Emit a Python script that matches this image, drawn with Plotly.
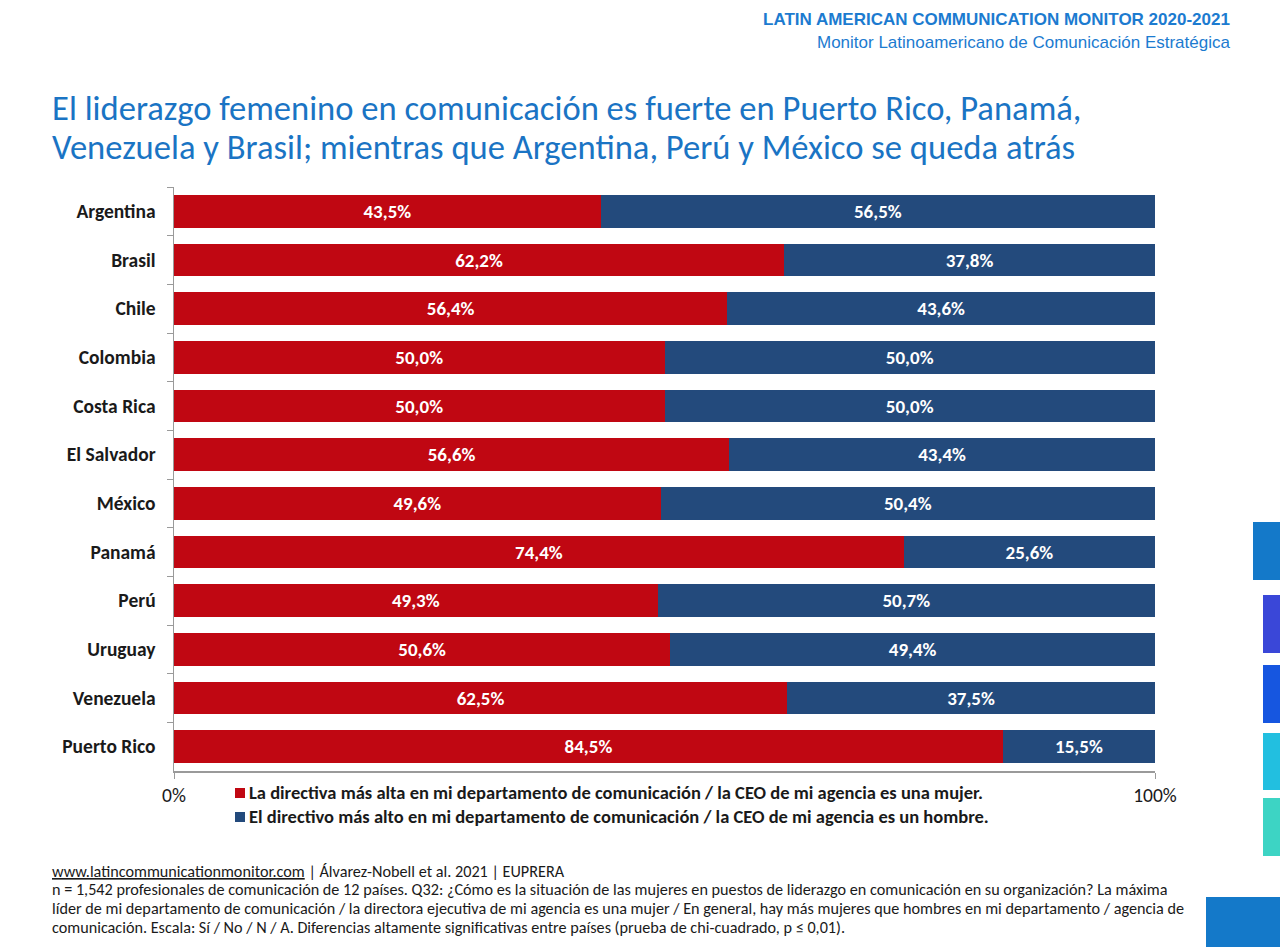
import plotly.graph_objects as go

countries = ["Argentina", "Brasil", "Chile", "Colombia", "Costa Rica", "El Salvador",
             "México", "Panamá", "Perú", "Uruguay", "Venezuela", "Puerto Rico"]
mujer = [43.5, 62.2, 56.4, 50.0, 50.0, 56.6, 49.6, 74.4, 49.3, 50.6, 62.5, 84.5]
hombre = [56.5, 37.8, 43.6, 50.0, 50.0, 43.4, 50.4, 25.6, 50.7, 49.4, 37.5, 15.5]
x_tick_vals = [0, 100]
x_tick_text = ["0%", "100%"]
name_mujer = "La directiva más alta en mi departamento de comunicación / la CEO de mi agencia es una mujer."
name_hombre = "El directivo más alto en mi departamento de comunicación / la CEO de mi agencia es un hombre."

title_lines = ["El liderazgo femenino en comunicación es fuerte en Puerto Rico, Panamá,",
               "Venezuela y Brasil; mientras que Argentina, Perú y México se queda atrás"]
footer_lines = [
    "<u>www.latincommunicationmonitor.com</u> | Álvarez-Nobell et al. 2021 | EUPRERA",
    "n = 1,542 profesionales de comunicación de 12 países. Q32: ¿Cómo es la situación de las mujeres en puestos de liderazgo en comunicación en su organización? La máxima",
    "líder de mi departamento de comunicación / la directora ejecutiva de mi agencia es una mujer / En general, hay más mujeres que hombres en mi departamento / agencia de",
    "comunicación. Escala: Sí / No / N / A. Diferencias altamente significativas entre países (prueba de chi-cuadrado, p ≤ 0,01).",
]

W, H = 1280, 947
L, R, T, B = 174, 1155, 187, 771
FONT = "Carlito, Calibri, Lato, sans-serif"
DARK = "#1a1a1a"

def px(x_ref):
    return (x_ref - L) / (R - L)

def py(y_ref):
    return (B - y_ref) / (B - T)

RED = "#C00712"
BLUE = "#234A7C"
TEAL_BLUE = "#1479C9"

fig = go.Figure()
for vals, name, col in [(mujer, name_mujer, RED), (hombre, name_hombre, BLUE)]:
    fig.add_trace(go.Bar(
        y=countries, x=vals, orientation="h", name=name,
        marker=dict(color=col, line=dict(width=0)),
        texttemplate="%{x:.1f}%", textposition="inside", insidetextanchor="middle",
        textfont=dict(color="white", size=19, family=FONT, weight="bold"),
        hoverinfo="skip", showlegend=False,
    ))

shapes = []
deco = [
    (1253, 522, 1280, 580, TEAL_BLUE),
    (1263, 595, 1280, 653, "#3A47D8"),
    (1263, 665, 1280, 723, "#1656E0"),
    (1263, 733, 1280, 790, "#22BFE0"),
    (1263, 798, 1280, 856, "#3DD4C4"),
    (1206, 897, 1280, 947, TEAL_BLUE),
]
for x0, y0, x1, y1, c in deco:
    shapes.append(dict(type="rect", xref="paper", yref="paper",
                       x0=px(x0), x1=px(x1), y0=py(y1), y1=py(y0),
                       fillcolor=c, line=dict(width=0), layer="above"))

# legend (manual, to match the tight swatch spacing)
legend_items = [(name_mujer, RED, 792.5), (name_hombre, BLUE, 816.5)]
annotations = []
for name, col, yc in legend_items:
    shapes.append(dict(type="rect", xref="paper", yref="paper",
                       x0=px(235), x1=px(245), y0=py(yc + 5.5), y1=py(yc - 4.5),
                       fillcolor=col, line=dict(width=0)))
    annotations.append(dict(text=name, x=px(247), y=py(yc), xref="paper", yref="paper",
                            xanchor="left", yanchor="middle", showarrow=False,
                            font=dict(family=FONT, size=18.5, color=DARK, weight="bold")))

annotations += [
    dict(text="<b>LATIN AMERICAN COMMUNICATION MONITOR 2020-2021</b>",
         x=px(1232), y=py(20), xref="paper", yref="paper", xanchor="right", yanchor="middle",
         showarrow=False, font=dict(family="Liberation Sans, Arial", size=17, color="#1C7BD0")),
    dict(text="Monitor Latinoamericano de Comunicación Estratégica",
         x=px(1232), y=py(43), xref="paper", yref="paper", xanchor="right", yanchor="middle",
         showarrow=False, font=dict(family="Liberation Sans, Arial", size=17, color="#1C7BD0")),
]
for line, yc in zip(title_lines, [108, 147]):
    annotations.append(dict(text=line, x=px(50), y=py(yc), xref="paper", yref="paper",
                            xanchor="left", yanchor="middle", showarrow=False,
                            font=dict(family=FONT, size=34.6, color="#1A74C4")))
for line, yc in zip(footer_lines, [871, 889, 908, 927]):
    annotations.append(dict(text=line, x=px(50), y=py(yc), xref="paper", yref="paper",
                            xanchor="left", yanchor="middle", showarrow=False,
                            font=dict(family=FONT, size=16.2, color=DARK)))

fig.update_layout(
    width=W, height=H,
    margin=dict(l=L, r=W - R, t=T, b=H - B, pad=0),
    paper_bgcolor="white", plot_bgcolor="white",
    barmode="stack", bargap=0.33,
    separators=",.",
    showlegend=False,
    shapes=shapes,
    annotations=annotations,
    font=dict(family=FONT),
)
fig.update_xaxes(range=[0, 100], tickvals=x_tick_vals, ticktext=x_tick_text,
                 showgrid=True, gridcolor="#9a9a9a", gridwidth=1,
                 showline=True, linecolor="#9a9a9a", linewidth=1.5,
                 ticks="outside", ticklen=6, tickcolor="#9a9a9a",
                 tickfont=dict(family=FONT, size=19.5, color=DARK),
                 zeroline=False, fixedrange=True)
fig.update_yaxes(autorange="reversed", type="category",
                 showline=True, linecolor="#9a9a9a", linewidth=1.5,
                 ticks="outside", ticklen=6, tickcolor="#9a9a9a", tickson="boundaries",
                 showgrid=False,
                 tickfont=dict(family=FONT, size=19.5, color=DARK, weight="bold"),
                 ticklabelstandoff=13, fixedrange=True)

fig.write_html("out.html",
               config={"displayModeBar": False, "staticPlot": True},
               post_script="document.body.style.margin='0';document.body.style.overflow='hidden';")
